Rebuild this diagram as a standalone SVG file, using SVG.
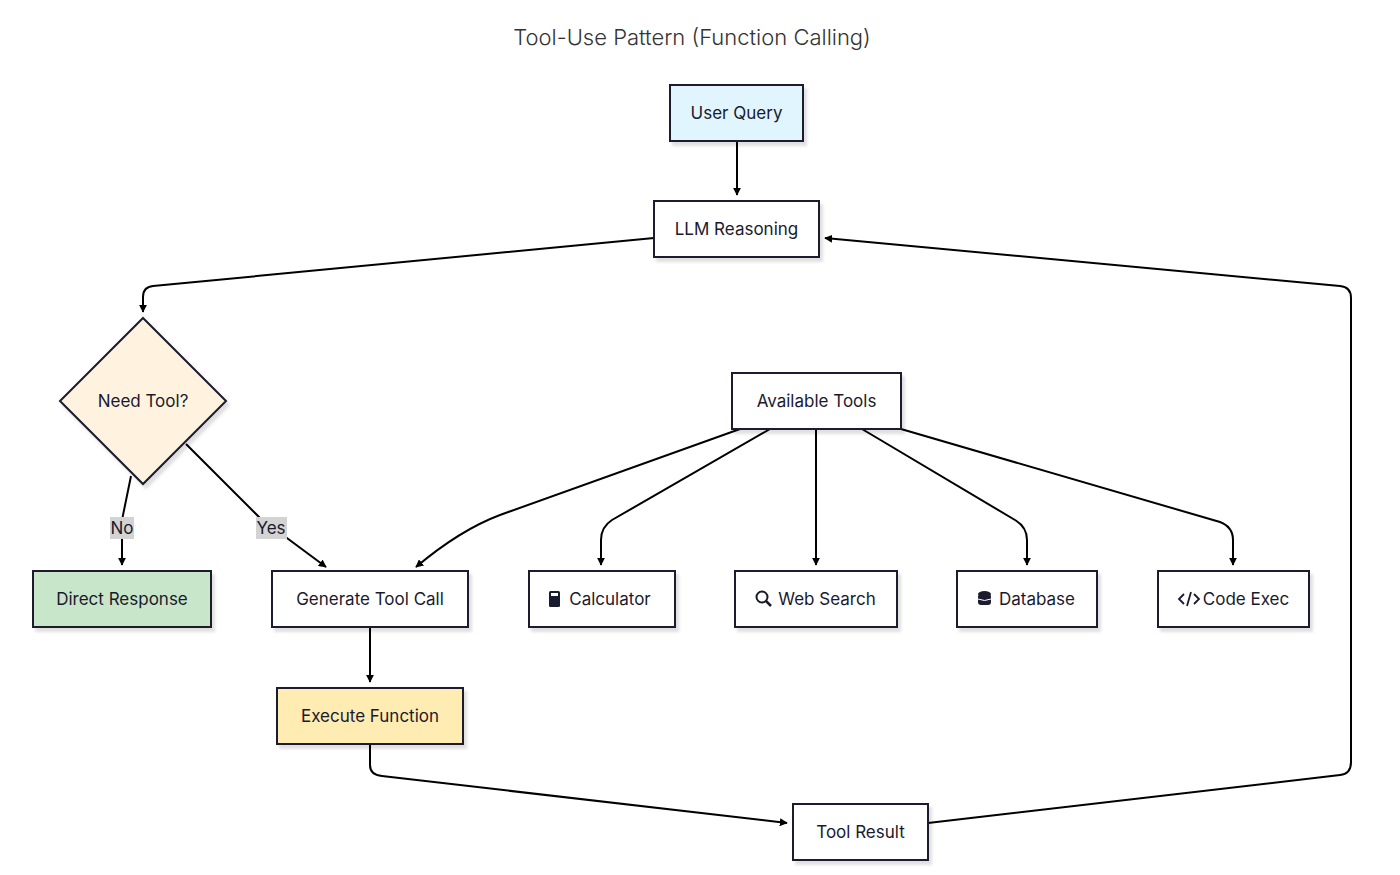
<svg xmlns="http://www.w3.org/2000/svg" width="1400" height="875" viewBox="0 0 1400 875">
<defs>
<filter id="sh" x="-10%" y="-10%" width="130%" height="140%"><feDropShadow dx="3" dy="4" stdDeviation="1.5" flood-color="#000" flood-opacity="0.12"/></filter>
<marker id="ar" viewBox="0 0 10 10" refX="9" refY="5" markerWidth="8" markerHeight="8" markerUnits="userSpaceOnUse" orient="auto"><path d="M0,0 L10,5 L0,10 z" fill="#000"/></marker>
</defs>
<style>
.n{stroke:#1a1a2e;stroke-width:2;filter:url(#sh)}
.t{font-family:Inter,"Noto Sans",sans-serif;font-size:17px;fill:#1a1a2e;text-anchor:middle;dominant-baseline:central}
.e{fill:none;stroke:#000;stroke-width:2;marker-end:url(#ar)}
.lb{fill:#d3d3d3}
</style>
<rect width="1400" height="875" fill="#fff"/>
<text x="692" y="37" class="t" style="font-size:22px;fill:#333;font-weight:300">Tool-Use Pattern (Function Calling)</text>
<g id="connectors">
<path class="e" d="M737,141 L737,195"/>
<path class="e" d="M654,238 L153,286 Q143,287 143,297 L143,312"/>
<path class="e" d="M131,476 L122,520 L122,565"/>
<path class="e" d="M186,444 L260,518 L326,567"/>
<path class="e" d="M370,627 L370,682"/>
<path class="e" d="M370,744 L370,765 Q370,775 382,776 L787,823"/>
<path class="e" d="M928,823 L1340,775 Q1351,774 1351,762 L1351,298 Q1351,287 1340,286 L825,238"/>
<path class="e" d="M740,429 L500,515 Q460,530 416,567"/>
<path class="e" d="M770,429 L612,520 Q601,527 601,540 L601,565"/>
<path class="e" d="M816,429 L816,565"/>
<path class="e" d="M862,429 L1015,520 Q1027,527 1027,540 L1027,565"/>
<path class="e" d="M901,429 L1220,522 Q1233,527 1233,540 L1233,565"/>
<rect class="lb" x="110" y="517" width="24" height="22"/>
<text class="t" x="122" y="528">No</text>
<rect class="lb" x="256" y="517" width="31" height="22"/>
<text class="t" x="271" y="528">Yes</text>
</g>
<g id="user"><rect class="n" x="670" y="85" width="133" height="56" fill="#e1f5fe"/><text class="t" x="736.5" y="113">User Query</text></g>
<g id="llm"><rect class="n" x="654" y="201" width="165" height="56" fill="#fff"/><text class="t" x="736.5" y="229">LLM Reasoning</text></g>
<g id="need"><path class="n" d="M143,318 L226,401 L143,484 L60,401 Z" fill="#fff3e0"/><text class="t" x="143" y="401">Need Tool?</text></g>
<g id="avail"><rect class="n" x="732" y="373" width="169" height="56" fill="#fff"/><text class="t" x="816.5" y="401">Available Tools</text></g>
<g id="direct"><rect class="n" x="33" y="571" width="178" height="56" fill="#c8e6c9"/><text class="t" x="122" y="599">Direct Response</text></g>
<g id="gen"><rect class="n" x="272" y="571" width="196" height="56" fill="#fff"/><text class="t" x="370" y="599">Generate Tool Call</text></g>
<g id="calc"><rect class="n" x="529" y="571" width="146" height="56" fill="#fff"/>
<rect x="549" y="591" width="11" height="16" rx="1.5" fill="#1a1a2e"/><rect x="551" y="593" width="7" height="3" fill="#fff"/>
<text class="t" x="610" y="599">Calculator</text></g>
<g id="web"><rect class="n" x="735" y="571" width="162" height="56" fill="#fff"/>
<circle cx="762" cy="597" r="5.5" fill="none" stroke="#1a1a2e" stroke-width="2"/><path d="M766,601 L771,606" stroke="#1a1a2e" stroke-width="2.5"/>
<text class="t" x="827" y="599">Web Search</text></g>
<g id="db"><rect class="n" x="957" y="571" width="140" height="56" fill="#fff"/>
<ellipse cx="984.5" cy="594" rx="6.5" ry="3" fill="#1a1a2e"/><rect x="978" y="594" width="13" height="11" rx="3" fill="#1a1a2e"/><path d="M978,599 Q984.5,602 991,599" stroke="#fff" fill="none"/>
<text class="t" x="1037" y="599">Database</text></g>
<g id="code"><rect class="n" x="1158" y="571" width="151" height="56" fill="#fff"/>
<path d="M1184,594 L1179,599 L1184,604 M1194,594 L1199,599 L1194,604 M1191,592 L1187,606" stroke="#1a1a2e" stroke-width="1.8" fill="none"/>
<text class="t" x="1246" y="599">Code Exec</text></g>
<g id="exec"><rect class="n" x="277" y="688" width="186" height="56" fill="#ffecb3"/><text class="t" x="370" y="716">Execute Function</text></g>
<g id="result"><rect class="n" x="793" y="804" width="135" height="56" fill="#fff"/><text class="t" x="860.5" y="832">Tool Result</text></g>
</svg>
